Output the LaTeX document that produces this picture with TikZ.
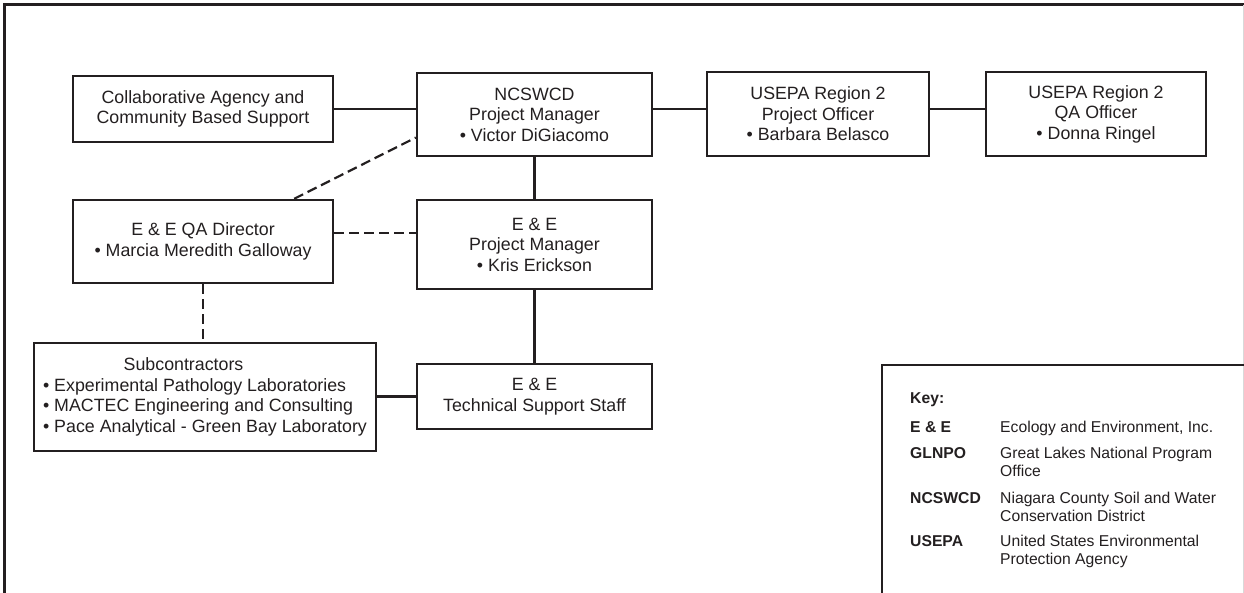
\documentclass[tikz,border=0pt]{standalone}
\usepackage{fontspec}
\setmainfont{Liberation Sans}
\usetikzlibrary{calc}
\definecolor{ink}{HTML}{231F20}
\newcommand\mainfs{\fontsize{17.8}{20.5}\selectfont}
\newcommand\keyfs{\fontsize{15.7}{18}\selectfont}
\begin{document}
\begin{tikzpicture}[x=1pt,y=-1pt,
  box/.style={draw=ink, line width=2.4pt, rectangle, inner sep=0pt, align=center, font=\mainfs, text=ink},
  conn/.style={draw=ink, line width=2.2pt},
  dconn/.style={conn, dash pattern=on 10pt off 5pt},
  keyab/.style={anchor=base west, inner sep=0pt, font=\keyfs\bfseries, text=ink},
  keydef/.style={anchor=base west, inner sep=0pt, font=\keyfs, text=ink}]
\useasboundingbox (0,0) rectangle (1244,593);
% outer frame
\draw[ink, line width=3pt] (4,600) -- (4,5) -- (1250,5);
\draw[gray!30, line width=1pt] (1243,5) -- (1243,600);
% boxes
\node[box, minimum width=260pt, minimum height=66pt] (collab) at (203,109) {Collaborative Agency and\\Community Based Support};
\node[box, minimum width=235pt, minimum height=83pt] (ncswcd) at (534.5,114.5) {NCSWCD\\Project Manager\\\textbullet\ Victor DiGiacomo};
\node[box, minimum width=222pt, minimum height=84pt] (usepa) at (818,114) {USEPA Region 2\\Project Officer\\\textbullet\ Barbara Belasco};
\node[box, minimum width=220pt, minimum height=84pt] (qaoff) at (1096,114) {USEPA Region 2\\QA Officer\\\textbullet\ Donna Ringel};
\node[box, minimum width=260pt, minimum height=83pt] (qadir) at (203,241.5) {E \& E QA Director\\\textbullet\ Marcia Meredith Galloway};
\node[box, minimum width=235pt, minimum height=89pt] (eepm) at (534.5,244.5) {E \& E\\Project Manager\\\textbullet\ Kris Erickson};
\node[box, minimum width=342pt, minimum height=108pt, align=left] (sub) at (205,397) {\hspace*{80.6pt}Subcontractors\\\textbullet\ Experimental Pathology Laboratories\\\textbullet\ MACTEC Engineering and Consulting\\\textbullet\ Pace Analytical - Green Bay Laboratory};
\node[box, minimum width=235pt, minimum height=65pt] (tech) at (534.5,396.5) {E \& E\\Technical Support Staff};
% connectors
\draw[conn] (collab.east) -- (collab.east -| ncswcd.west);
\draw[conn] (ncswcd.east |- collab.east) -- (usepa.west |- collab.east);
\draw[conn] (usepa.east |- collab.east) -- (qaoff.west |- collab.east);
\draw[conn] (ncswcd.south) -- (eepm.north);
\draw[conn] (eepm.south) -- (tech.north);
\draw[conn] (sub.east |- tech.west) -- (tech.west);
\coordinate (qd) at ($(qadir.north east)!0.4!(qadir.south east)$);
\draw[dconn] (qd) -- (qd -| eepm.west);
\draw[dconn] ($(qadir.north east)+(-40,0)$) -- ($(ncswcd.north west)!0.77!(ncswcd.south west)$);
\draw[dconn] (qadir.south) -- (qadir.south |- sub.north);
% key
\draw[ink, line width=2.4pt] (1250,365) -- (882,365) -- (882,600);
\node[keyab] (kkey) at (910,403) {Key:};
\node[keyab] (kee) at (910,432) {E \& E};
\node[keydef] (dee) at (1000,432) {Ecology and Environment, Inc.};
\node[keyab] (kgl) at (910,458) {GLNPO};
\node[keydef] (dgl1) at (1000,458) {Great Lakes National Program};
\node[keydef] (dgl2) at (1000,476) {Office};
\node[keyab] (knc) at (910,503) {NCSWCD};
\node[keydef] (dnc1) at (1000,503) {Niagara County Soil and Water};
\node[keydef] (dnc2) at (1000,521) {Conservation District};
\node[keyab] (kus) at (910,546) {USEPA};
\node[keydef] (dus1) at (1000,546) {United States Environmental};
\node[keydef] (dus2) at (1000,564) {Protection Agency};
\end{tikzpicture}
\end{document}
